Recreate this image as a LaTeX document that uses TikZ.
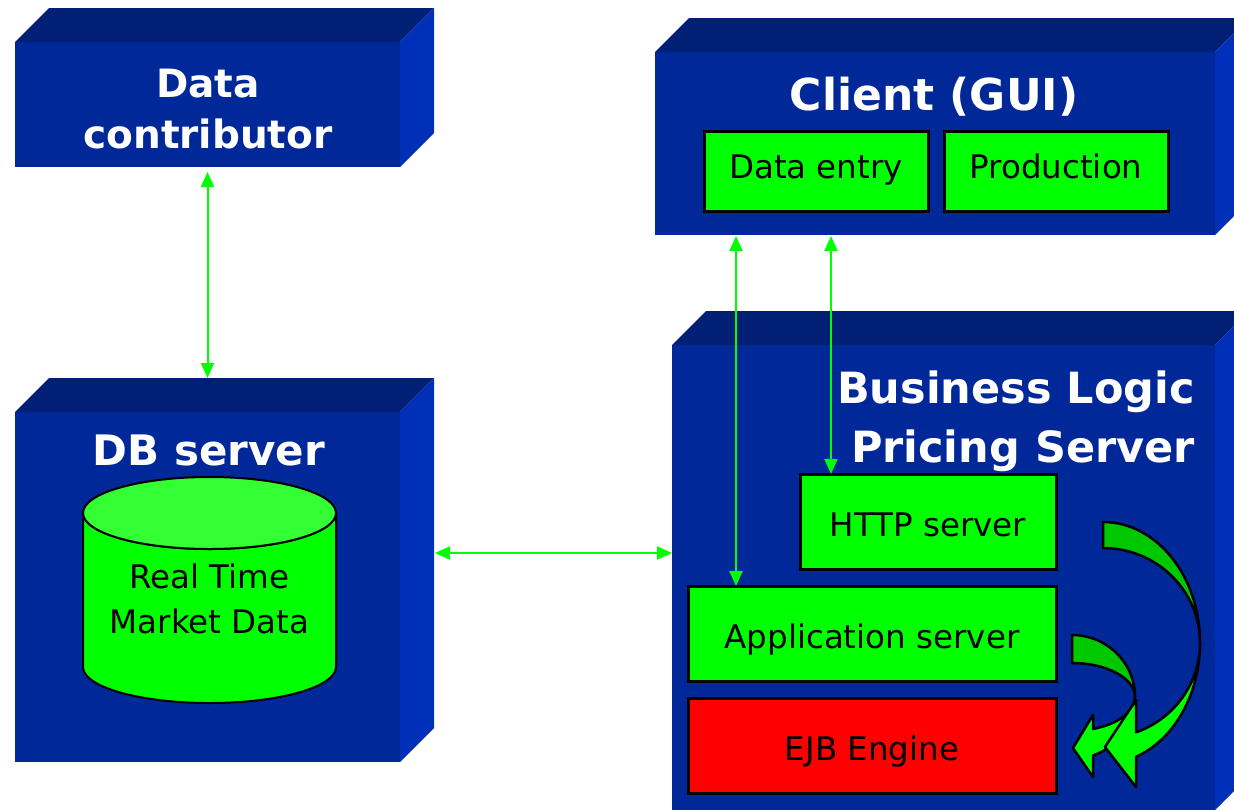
\documentclass[tikz,border=0pt]{standalone}
\usepackage{fontspec}
\setmainfont{DejaVu Sans}
\usetikzlibrary{arrows.meta}
\definecolor{frontblue}{RGB}{0,40,153}
\definecolor{topblue}{RGB}{0,31,117}
\definecolor{sideblue}{RGB}{0,48,184}
\definecolor{brightgreen}{RGB}{0,255,0}
\definecolor{darkgreen}{RGB}{0,200,0}
\definecolor{cyltop}{RGB}{51,255,51}
\begin{document}
\begin{tikzpicture}[x=1pt,y=-1pt,
  frontface/.style={fill=frontblue, draw=none, inner sep=0pt, outer sep=0pt},
  topface/.style={fill=topblue},
  sideface/.style={fill=sideblue},
  gbox/.style={draw=black, line width=3pt, fill=brightgreen, inner sep=0pt, outer sep=0pt, text=black, font=\fontsize{32.5}{39}\selectfont, text height=31pt, text depth=2pt},
  cbox/.style={gbox, text height=22pt, text depth=7pt},
  rbox/.style={gbox, fill=red},
  titletext/.style={text=white, inner sep=0pt, anchor=base, font=\bfseries\fontsize{#1}{#1}\selectfont},
  cyltext/.style={text=black, inner sep=0pt, anchor=base, font=\fontsize{32.5}{39}\selectfont},
  conn/.style={draw=brightgreen, line width=2pt, {Triangle[length=15pt,width=13pt]}-{Triangle[length=15pt,width=13pt]}},
  curvearrow/.style={draw=black, line width=2.5pt, line join=round}
]
\useasboundingbox (0,0) rectangle (1234,809);
\clip (0,0) rectangle (1234,809);
\fill[white] (0,0) rectangle (1234,809);

% ---- 3D boxes: front faces
\node[frontface, minimum width=385pt, minimum height=125pt] (dc) at (207.5,104.5) {};
\node[frontface, minimum width=385pt, minimum height=350pt] (db) at (207.5,587) {};
\node[frontface, minimum width=560pt, minimum height=183pt] (cl) at (935,143.5) {};
\node[frontface, minimum width=543pt, minimum height=465pt] (bl) at (943.5,577.5) {};

% top and side faces
\foreach \b in {dc,db,cl,bl}{
  \fill[topface] (\b.north west) -- ([shift={(34,-34)}]\b.north west) -- ([shift={(34,-34)}]\b.north east) -- (\b.north east) -- cycle;
  \fill[sideface] (\b.north east) -- ([shift={(34,-34)}]\b.north east) -- ([shift={(34,-34)}]\b.south east) -- (\b.south east) -- cycle;
}

% ---- titles
\node[titletext=39] (dct1) at (208,97) {Data};
\node[titletext=39] (dct2) at (208,148) {contributor};
\node[titletext=42] (dbt) at (209,465) {DB server};
\node[titletext=44] (clt) at (934,110) {Client (GUI)};
\node[titletext=43, anchor=base east] (blt1) at (1195,403) {Business Logic};
\node[titletext=43, anchor=base east] (blt2) at (1195,462) {Pricing Server};

% ---- client inner boxes
\node[cbox, minimum width=224pt, minimum height=80pt] (de) at (816,171) {Data entry};
\node[cbox, minimum width=224pt, minimum height=80pt] (pr) at (1056,171) {Production};

% ---- business logic inner boxes
\node[gbox, minimum width=256pt, minimum height=95pt] (http) at (928,521.5) {HTTP server};
\node[gbox, minimum width=368pt, minimum height=95pt] (app) at (872,633.5) {Application server};
\node[rbox, minimum width=368pt, minimum height=95pt] (ejb) at (872,745.5) {EJB Engine};

% ---- cylinder
\filldraw[draw=black, line width=2pt, fill=brightgreen] (83,513) -- (83,667) arc[start angle=180, end angle=0, x radius=126.5, y radius=36] -- (336,513) arc[start angle=0, end angle=180, x radius=126.5, y radius=36] -- cycle;
\filldraw[draw=black, line width=2pt, fill=cyltop] (209.5,513) ellipse[x radius=126.5, y radius=36];
\node[cyltext] (rt1) at (209.5,588) {Real Time};
\node[cyltext] (rt2) at (209.5,633) {Market Data};

% ---- connectors
\coordinate (dbback) at ([yshift=34pt]db.north);
\draw[conn] ([yshift=-5pt]dc.south) -- (dc.south |- dbback);
\coordinate (dbR) at (435,553);
\draw[conn] (dbR) -- (dbR -| bl.west);
\coordinate (xa) at (736,0);
\coordinate (xh) at (831,0);
\draw[conn] ([yshift=-1pt]xa |- cl.south) -- (xa |- app.north);
\draw[conn] ([yshift=-1pt]xh |- cl.south) -- (xh |- http.north);

% ---- curved arrows (small)
\filldraw[curvearrow, fill=darkgreen] (1072,635) arc[start angle=-90, end angle=0, x radius=63, y radius=62] arc[start angle=0, end angle=-90, x radius=63, y radius=34] -- cycle;
\filldraw[curvearrow, fill=brightgreen] (1135,697) arc[start angle=0, end angle=70.5, x radius=63, y radius=62] -- (1093,777) -- (1073,748) -- (1093,715) -- (1093,729) arc[start angle=70.5, end angle=0, x radius=63, y radius=34] -- cycle;
% ---- curved arrows (big)
\filldraw[curvearrow, fill=darkgreen] (1103,522) arc[start angle=-90, end angle=0, x radius=97, y radius=121] arc[start angle=0, end angle=-90, x radius=97, y radius=95] -- cycle;
\filldraw[curvearrow, fill=brightgreen] (1200,643) arc[start angle=0, end angle=70, x radius=97, y radius=121] -- (1136,787) -- (1105,747) -- (1136,700) -- (1136.2,732.3) arc[start angle=70, end angle=0, x radius=97, y radius=95] -- cycle;
\end{tikzpicture}
\end{document}
